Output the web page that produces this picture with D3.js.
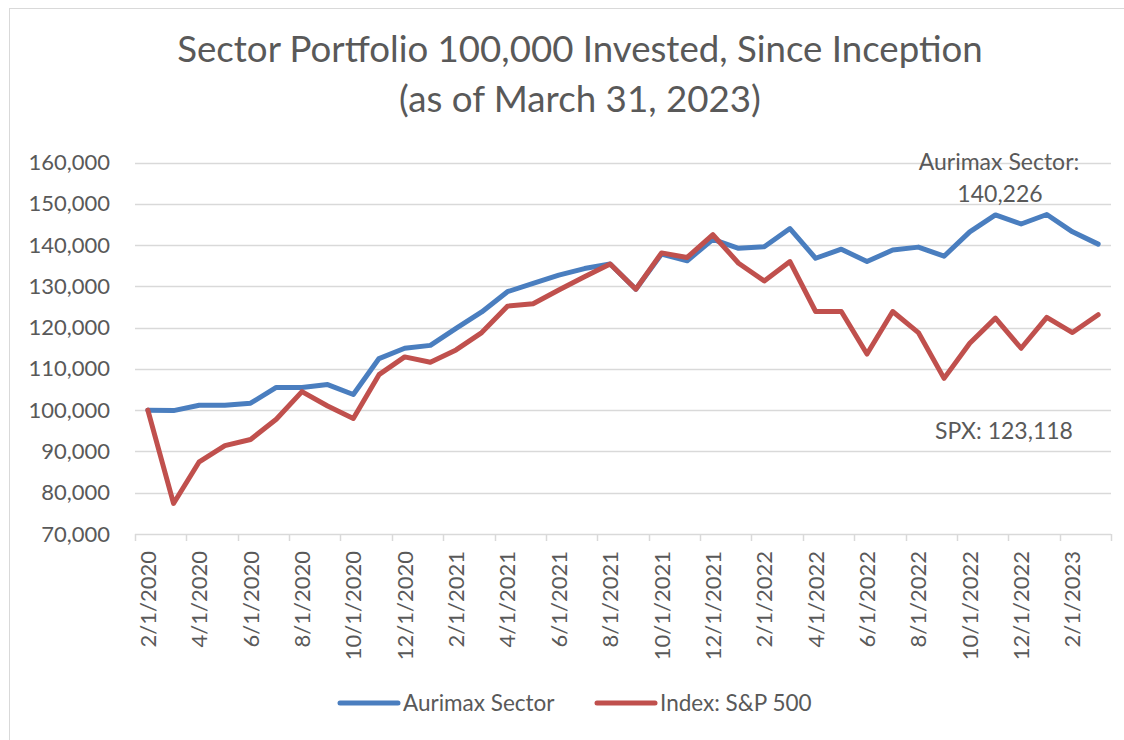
<!DOCTYPE html>
<html>
<head>
<meta charset="utf-8">
<script src="https://cdn.jsdelivr.net/npm/d3@7"></script>
<style>
  body { margin: 0; background: #fff; }
  svg { display: block; }
  text { font-family: Lato, "Noto Sans", sans-serif; fill: #595959; }
</style>
</head>
<body>
<div class="chart"></div>
<script>
var width = 1124, height = 740;

// month-start dates, Feb 2020 .. Mar 2023
var dates = ["2/1/2020","3/1/2020","4/1/2020","5/1/2020","6/1/2020","7/1/2020","8/1/2020","9/1/2020",
  "10/1/2020","11/1/2020","12/1/2020","1/1/2021","2/1/2021","3/1/2021","4/1/2021","5/1/2021",
  "6/1/2021","7/1/2021","8/1/2021","9/1/2021","10/1/2021","11/1/2021","12/1/2021","1/1/2022",
  "2/1/2022","3/1/2022","4/1/2022","5/1/2022","6/1/2022","7/1/2022","8/1/2022","9/1/2022",
  "10/1/2022","11/1/2022","12/1/2022","1/1/2023","2/1/2023","3/1/2023"];

var aurimax = [100000, 99900, 101200, 101200, 101700, 105500, 105500, 106200, 103800, 112500,
  115000, 115700, 119800, 123800, 128700, 130700, 132700, 134300, 135400, 129300,
  137800, 136200, 141400, 139200, 139600, 144000, 136800, 139000, 136000, 138800,
  139500, 137300, 143200, 147300, 145100, 147400, 143200, 140226];

var spx = [100000, 77400, 87500, 91400, 92900, 97800, 104500, 101000, 98000, 108600,
  112900, 111600, 114600, 118800, 125200, 125800, 129100, 132300, 135400, 129300,
  138100, 137000, 142500, 135600, 131300, 136000, 123900, 123900, 113600, 123900,
  118800, 107700, 116200, 122300, 115000, 122500, 118800, 123118];

var yTicks = [70000, 80000, 90000, 100000, 110000, 120000, 130000, 140000, 150000, 160000];

var seriesNames = ["Aurimax Sector", "Index: S&P 500"];
var seriesColors = ["#4a7ebf", "#c0504d"];
var titleLines = ["Sector Portfolio 100,000 Invested, Since Inception", "(as of March 31, 2023)"];

var svg = d3.select(".chart").append("svg")
    .attr("width", width)
    .attr("height", height);

// outer chart frame
svg.append("rect")
    .attr("x", 9.5).attr("y", 8.5)
    .attr("width", 1130).attr("height", 760)
    .attr("fill", "none")
    .attr("stroke", "#d9d9d9")
    .attr("stroke-width", 1);

var x = d3.scaleBand().domain(dates).range([135, 1111]).padding(0);
var y = d3.scaleLinear().domain([70000, 160000]).range([534, 162.5]);

// title, fitted to the reference width
var titleWidths = [806, 362];
titleLines.forEach(function (t, i) {
    var txt = svg.append("text")
        .attr("x", 580)
        .attr("y", i == 0 ? 62 : 112)
        .attr("text-anchor", "middle")
        .style("font-size", "31px")
        .text(t);
    var w = txt.node().getComputedTextLength();
    txt.style("font-size", (31 * titleWidths[i] / w) + "px");
});

// gridlines
svg.append("g")
    .selectAll("line")
    .data(yTicks.slice(1))
    .enter().append("line")
    .attr("x1", 135).attr("x2", 1111)
    .attr("y1", function (d) { return Math.round(y(d)) + 0.5; })
    .attr("y2", function (d) { return Math.round(y(d)) + 0.5; })
    .attr("stroke", "#d9d9d9")
    .attr("stroke-width", 1.5);

// y axis labels
var yAxis = d3.axisLeft(y)
    .tickValues(yTicks)
    .tickSize(0)
    .tickPadding(25)
    .tickFormat(d3.format(","));

svg.append("g")
    .attr("transform", "translate(135,0)")
    .call(yAxis)
    .call(function (g) { g.select(".domain").remove(); })
    .selectAll("text")
    .style("font-size", "22px")
    .style("font-family", "Lato, sans-serif")
    .attr("fill", "#595959");

// x axis line + ticks at every second category boundary
var xg = svg.append("g");
xg.append("line")
    .attr("x1", 135).attr("x2", 1111)
    .attr("y1", 534.5).attr("y2", 534.5)
    .attr("stroke", "#d9d9d9")
    .attr("stroke-width", 1.5);

var tickPos = dates.filter(function (d, i) { return i % 2 == 0; }).map(function (d) { return x(d); });
tickPos.push(x.range()[1]);
xg.selectAll("line.tick")
    .data(tickPos)
    .enter().append("line")
    .attr("class", "tick")
    .attr("x1", function (d) { return Math.round(d) + 0.5; })
    .attr("x2", function (d) { return Math.round(d) + 0.5; })
    .attr("y1", 534).attr("y2", 541)
    .attr("stroke", "#d9d9d9")
    .attr("stroke-width", 1.5);

xg.selectAll("text")
    .data(dates.filter(function (d, i) { return i % 2 == 0; }))
    .enter().append("text")
    .attr("transform", function (d) {
        return "translate(" + (x(d) + x.bandwidth() / 2 + 8) + ",551) rotate(-90)";
    })
    .attr("text-anchor", "end")
    .style("font-size", "22px")
    .text(function (d) { return d; });

// lines
var line = d3.line()
    .x(function (d, i) { return x(dates[i]) + x.bandwidth() / 2; })
    .y(function (d) { return y(d); });

[aurimax, spx].forEach(function (s, k) {
    svg.append("path")
        .datum(s)
        .attr("d", line)
        .attr("fill", "none")
        .attr("stroke", seriesColors[k])
        .attr("stroke-width", 5)
        .attr("stroke-linejoin", "round")
        .attr("stroke-linecap", "round");
});

// end value notes
var lastA = aurimax[aurimax.length - 1], lastS = spx[spx.length - 1];
svg.append("text").attr("x", 999).attr("y", 170).attr("text-anchor", "middle")
    .style("font-size", "23px").text("Aurimax  Sector:");
svg.append("text").attr("x", 1000).attr("y", 202).attr("text-anchor", "middle")
    .style("font-size", "23px").text(d3.format(",")(lastA));
svg.append("text").attr("x", 1004).attr("y", 439).attr("text-anchor", "middle")
    .style("font-size", "23px").text("SPX: " + d3.format(",")(lastS));

// legend
var legendX = [340, 597];
seriesNames.forEach(function (n, k) {
    var lg = svg.append("g").attr("transform", "translate(" + legendX[k] + ",703)");
    lg.append("line")
        .attr("x1", 0).attr("x2", 58)
        .attr("stroke", seriesColors[k])
        .attr("stroke-width", 5)
        .attr("stroke-linecap", "round");
    lg.append("text")
        .attr("x", 63).attr("y", 8)
        .style("font-size", "22.5px")
        .text(n);
});
</script>
</body>
</html>
